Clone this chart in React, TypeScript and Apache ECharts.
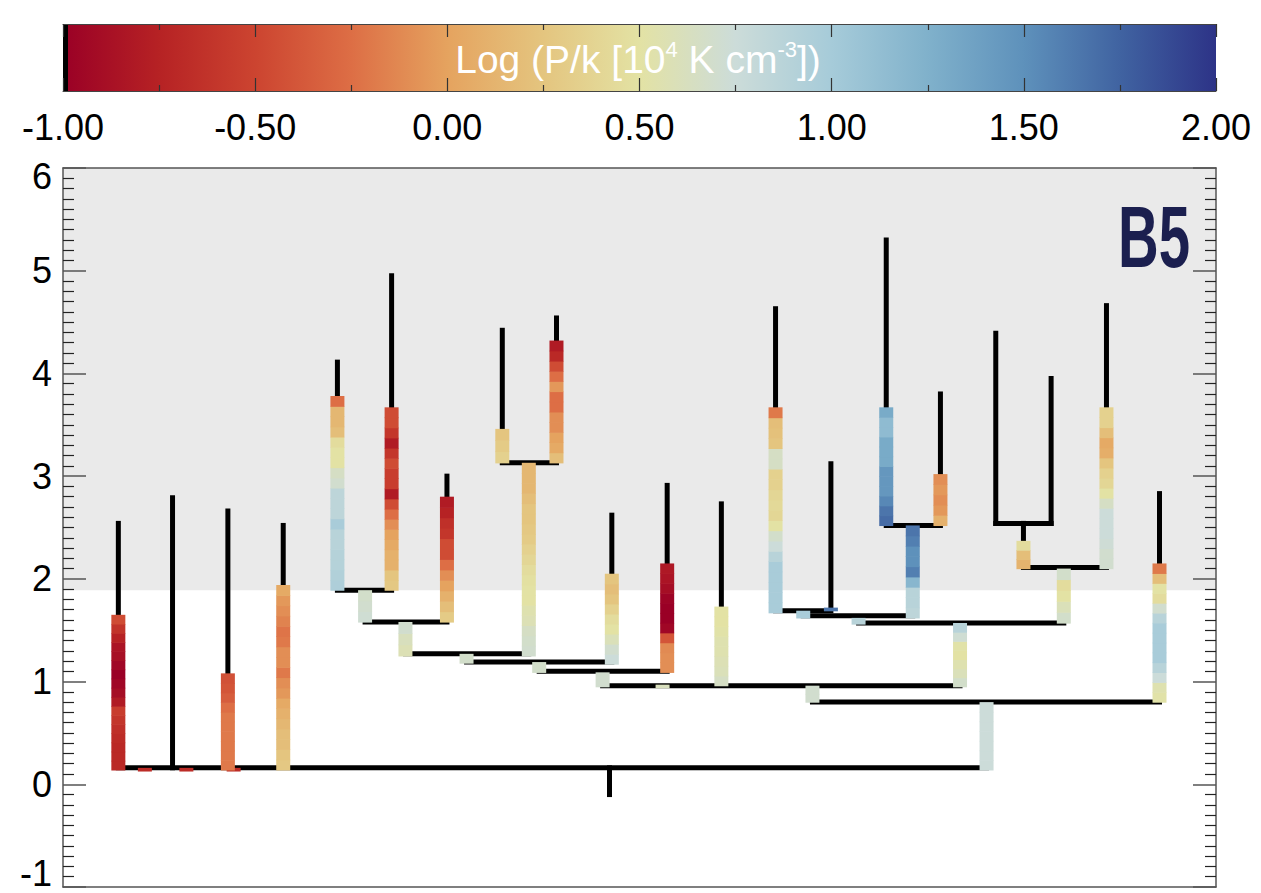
import React, { useEffect, useRef } from "react";
import * as echarts from "echarts";

const FONT = '"Liberation Sans", Arial, Helvetica, sans-serif';

// colour bar (Log P/k) stops
const cbStopValues = [-1, -0.75, -0.5, -0.25, 0, 0.25, 0.5, 0.75, 1, 1.25, 1.5, 1.75, 2];
const cbStopColors = [
  "#9a0026", "#b62224", "#cc4430", "#dd6e45", "#e5a35f", "#e4c57f", "#e3e2a4",
  "#ccdcd9", "#a6cbd9", "#80b1cb", "#5e91bb", "#4063a1", "#2d3387",
];
const cbMin = -1;
const cbMax = 2;

// y axis
const yMin = -1;
const yMax = 6;
const shadeFrom = 1.89;

// coloured branch segments: x position, lower / upper height, stripe values (bottom -> top)
const branchX = [
  4.8, 7.1, 10.7, 14.8, 14.3, 19.1, 23.8, 28.5, 26.2, 33.3, 29.7, 38.1, 42.8, 40.4, 35.0, 47.6,
  41.3, 52.4, 46.8, 52.0, 57.1, 61.8, 66.6, 64.2, 71.4, 76.1, 73.7, 69.0, 83.3, 90.5, 86.8, 77.8,
  65.0, 95.1, 80.1,
];
const branchLow = [
  0.14, 0.13, 0.13, 0.13, 0.14, 0.14, 1.89, 1.89, 1.58, 1.58, 1.25, 3.13, 3.13, 1.25, 1.18, 1.17,
  1.09, 1.09, 0.95, 0.94, 0.96, 1.67, 1.69, 1.62, 2.52, 2.52, 1.62, 1.56, 2.1, 2.1, 1.57, 0.95,
  0.8, 0.8, 0.14,
];
const branchHigh = [
  1.65, 0.16, 0.16, 0.16, 1.08, 1.94, 3.78, 3.67, 1.89, 2.8, 1.58, 3.46, 4.32, 3.13, 1.27, 2.05,
  1.19, 2.15, 1.09, 0.97, 1.73, 3.67, 1.72, 1.69, 3.67, 3.02, 2.52, 1.62, 2.37, 3.67, 2.1, 1.57,
  0.96, 2.15, 0.8,
];
const branchP: number[][] = [
  [-0.7, -0.7, -0.7, -0.68, -0.65, -0.6, -0.55, -0.8, -0.9, -0.95, -1.0, -0.95, -0.88, -0.85, -0.75, -0.62, -0.45],
  [-0.68],
  [-0.68],
  [-0.68],
  [-0.2, -0.2, -0.2, -0.2, -0.2, -0.2, -0.25, -0.35, -0.4, -0.42],
  [0.28, 0.25, 0.2, 0.2, 0.15, 0.1, 0.05, -0.05, -0.1, -0.2, -0.1, -0.1, -0.2, -0.22, -0.15, -0.1, -0.05, 0.05],
  [0.95, 0.93, 0.9, 0.9, 0.88, 0.88, 0.98, 0.85, 0.85, 0.85, 0.7, 0.65, 0.5, 0.5, 0.45, 0.2, 0.15, 0.15, -0.25],
  [0.28, 0.25, 0.1, 0.1, 0.05, 0.0, -0.1, -0.25, -0.45, -0.8, -0.55, -0.55, -0.45, -0.6, -0.8, -0.6, -0.45, -0.45],
  [0.72, 0.7, 0.68],
  [0.3, 0.2, 0.1, 0.0, -0.1, -0.25, -0.45, -0.45, -0.6, -0.65, -0.75, -0.8],
  [0.58, 0.62, 0.7],
  [0.35, 0.3, 0.25],
  [0.2, 0.05, 0.0, -0.1, -0.1, -0.25, -0.25, -0.05, -0.25, -0.45, -0.7, -0.8],
  [0.7, 0.68, 0.65, 0.58, 0.55, 0.5, 0.5, 0.48, 0.45, 0.4, 0.35, 0.3, 0.28, 0.25, 0.25, 0.2, 0.15, 0.15, 0.15],
  [0.68],
  [0.75, 0.7, 0.6, 0.5, 0.45, 0.35, 0.25, 0.2, 0.25],
  [0.68],
  [-0.1, -0.1, -0.12, -0.4, -0.95, -1.0, -1.0, -0.97, -0.9, -0.85, -0.82],
  [0.7],
  [0.62],
  [0.65, 0.6, 0.58, 0.55, 0.55, 0.52, 0.5, 0.5],
  [0.98, 0.98, 0.98, 0.98, 0.98, 0.88, 0.75, 0.68, 0.5, 0.4, 0.42, 0.4, 0.35, 0.35, 0.65, 0.65, 0.25, 0.22, 0.2, -0.2],
  [1.65],
  [0.98],
  [1.7, 1.65, 1.55, 1.45, 1.45, 1.45, 1.3, 1.3, 1.3, 1.15, 1.15, 1.3],
  [0.1, -0.05, -0.1, -0.05, -0.1],
  [0.85, 0.88, 0.88, 1.2, 1.6, 1.5, 1.5, 1.6, 1.65],
  [0.88],
  [0.12, 0.2, 0.45],
  [0.7, 0.7, 0.73, 0.75, 0.75, 0.75, 0.65, 0.5, 0.4, 0.35, 0.25, 0.08, 0.05, 0.2, 0.35, 0.35],
  [0.68, 0.6, 0.5, 0.45, 0.68],
  [0.68, 0.6, 0.55, 0.5, 0.52, 0.72, 0.88],
  [0.7, 0.7],
  [0.52, 0.55, 0.75, 0.88, 0.98, 0.98, 0.98, 0.98, 0.88, 0.7, 0.45, 0.5, 0.2, -0.2],
  [0.75, 0.75, 0.75, 0.75, 0.75, 0.75, 0.75],
];

// black vertical stems (no pressure data)
const stemX = [4.8, 9.5, 14.3, 19.1, 23.8, 28.5, 33.3, 38.1, 42.8, 47.6, 52.4, 57.1, 61.8, 66.6, 71.4, 76.1, 80.9, 85.7, 83.3, 90.5, 95.1, 47.4];
const stemLow = [1.65, 0.16, 1.08, 1.94, 3.78, 3.67, 2.8, 3.46, 4.32, 2.05, 2.15, 1.73, 3.67, 1.72, 3.67, 3.02, 2.54, 2.54, 2.37, 3.67, 2.15, -0.1];
const stemHigh = [2.54, 2.79, 2.66, 2.52, 4.11, 4.95, 3.0, 4.42, 4.54, 2.62, 2.91, 2.73, 4.63, 3.12, 5.3, 3.8, 4.39, 3.95, 2.54, 4.66, 2.83, 0.16];

// black horizontal links
const linkY = [0.16, 1.89, 1.58, 1.27, 3.13, 1.19, 1.1, 0.96, 1.69, 1.64, 2.52, 1.57, 2.54, 2.11, 0.8];
const linkX0 = [4.8, 23.8, 26.2, 29.7, 38.1, 35.0, 41.3, 46.8, 61.8, 64.2, 71.4, 69.0, 80.9, 83.3, 65.0];
const linkX1 = [80.1, 28.5, 33.3, 40.4, 42.8, 47.6, 52.4, 77.8, 66.6, 73.7, 76.1, 86.8, 85.7, 90.5, 95.1];

function hex(c: string) {
  return [parseInt(c.slice(1, 3), 16), parseInt(c.slice(3, 5), 16), parseInt(c.slice(5, 7), 16)];
}
function cmap(v: number) {
  const t = Math.max(cbMin, Math.min(cbMax, v));
  for (let i = 0; i < cbStopValues.length - 1; i++) {
    const a = cbStopValues[i];
    const b = cbStopValues[i + 1];
    if (t <= b) {
      const f = (t - a) / (b - a);
      const ca = hex(cbStopColors[i]);
      const cb = hex(cbStopColors[i + 1]);
      const m = ca.map((x, k) => Math.round(x + (cb[k] - x) * f));
      return `rgb(${m[0]},${m[1]},${m[2]})`;
    }
  }
  return cbStopColors[cbStopColors.length - 1];
}

export default function App() {
  const ref = useRef<HTMLDivElement>(null);
  useEffect(() => {
    if (!ref.current) return;
    const chart = echarts.init(ref.current, undefined, { renderer: "svg" });

    const stripes: number[][] = [];
    branchX.forEach((x, i) => {
      const vals = branchP[i];
      const h = (branchHigh[i] - branchLow[i]) / vals.length;
      vals.forEach((p, j) => {
        stripes.push([x, branchLow[i] + j * h, branchLow[i] + (j + 1) * h, p]);
      });
    });
    const segs: number[][] = [];
    stemX.forEach((x, i) => segs.push([x, stemLow[i], x, stemHigh[i]]));
    linkY.forEach((y, i) => segs.push([linkX0[i], y, linkX1[i], y]));

    const axisLineStyle = { color: "#555", width: 1.5 };
    const tickStyle = { color: "#333", width: 1.2 };
    const majorTick = { show: true, inside: true, length: 23, lineStyle: { color: "#555", width: 1.5 } };
    const minorTick = { show: true, splitNumber: 10, length: 11, lineStyle: { color: "#222", width: 1.2 } };

    const option: any = {
      animation: false,
      grid: [
        { left: 63, right: 45, top: 168, bottom: 6, outerBoundsMode: "none", containLabel: false },
        { left: 63, right: 45, top: 24, height: 67, outerBoundsMode: "none", containLabel: false },
      ],
      xAxis: [
        { gridIndex: 0, type: "value", min: 0, max: 100, position: "bottom", z: 10, axisLine: { show: true, onZero: false, lineStyle: axisLineStyle }, axisTick: { show: false }, axisLabel: { show: false }, splitLine: { show: false } },
        { gridIndex: 0, type: "value", min: 0, max: 100, position: "top", z: 10, axisLine: { show: true, onZero: false, lineStyle: axisLineStyle }, axisTick: { show: false }, axisLabel: { show: false }, splitLine: { show: false } },
        {
          gridIndex: 1, type: "value", min: cbMin, max: cbMax, interval: 0.5, position: "bottom", z: 10,
          axisLine: { show: true, onZero: false, lineStyle: { color: "#444", width: 1 } },
          axisTick: { show: true, inside: true, length: 13, lineStyle: tickStyle },
          minorTick: { show: true, splitNumber: 2, length: 6, lineStyle: tickStyle },
          axisLabel: { show: true, margin: 18, fontSize: 36, color: "#000", fontFamily: FONT, formatter: (v: number) => v.toFixed(2) },
          splitLine: { show: false },
        },
        {
          gridIndex: 1, type: "value", min: cbMin, max: cbMax, interval: 0.5, position: "top", z: 10,
          axisLine: { show: true, onZero: false, lineStyle: { color: "#444", width: 1 } },
          axisTick: { show: true, inside: true, length: 13, lineStyle: tickStyle },
          minorTick: { show: true, splitNumber: 2, length: 6, lineStyle: tickStyle },
          axisLabel: { show: false },
          splitLine: { show: false },
        },
      ],
      yAxis: [
        {
          gridIndex: 0, type: "value", min: yMin, max: yMax, interval: 1, position: "left", z: 10,
          axisLine: { show: true, onZero: false, lineStyle: axisLineStyle },
          axisTick: majorTick,
          minorTick: minorTick,
          axisLabel: {
            show: true, margin: 11, fontSize: 36, color: "#000", fontFamily: FONT,
            formatter: (v: number) => (v === yMax ? `{t|${v}}` : v === yMin ? `{b|${v}}` : `${v}`),
            rich: {
              t: { fontSize: 36, fontFamily: FONT, color: "#000", padding: [16, 0, 0, 0] },
              b: { fontSize: 36, fontFamily: FONT, color: "#000", padding: [0, 0, 28, 0] },
            },
          },
          splitLine: { show: false },
        },
        {
          gridIndex: 0, type: "value", min: yMin, max: yMax, interval: 1, position: "right", z: 10,
          axisLine: { show: true, onZero: false, lineStyle: axisLineStyle },
          axisTick: majorTick,
          minorTick: minorTick,
          axisLabel: { show: false },
          splitLine: { show: false },
        },
        { gridIndex: 1, type: "value", min: 0, max: 1, show: false },
      ],
      series: [
        {
          type: "custom", xAxisIndex: 0, yAxisIndex: 0, z: 1,
          data: [[0, shadeFrom, 100, yMax]],
          renderItem: (params: any, api: any) => {
            const a = api.coord([api.value(0), api.value(3)]);
            const b = api.coord([api.value(2), api.value(1)]);
            return { type: "rect", shape: { x: a[0], y: a[1], width: b[0] - a[0], height: b[1] - a[1] }, style: { fill: "#eaeaea" } };
          },
        },
        {
          type: "custom", xAxisIndex: 0, yAxisIndex: 0, z: 2,
          data: segs,
          renderItem: (params: any, api: any) => {
            const a = api.coord([api.value(0), api.value(1)]);
            const b = api.coord([api.value(2), api.value(3)]);
            return { type: "line", shape: { x1: a[0], y1: a[1], x2: b[0], y2: b[1] }, style: { stroke: "#000", lineWidth: 5, lineCap: "square" } };
          },
        },
        {
          type: "custom", xAxisIndex: 0, yAxisIndex: 0, z: 3,
          data: stripes,
          renderItem: (params: any, api: any) => {
            const a = api.coord([api.value(0), api.value(1)]);
            const b = api.coord([api.value(0), api.value(2)]);
            const w = 14;
            return { type: "rect", shape: { x: a[0] - w / 2, y: b[1], width: w, height: a[1] - b[1] + 0.6 }, style: { fill: cmap(api.value(3)) } };
          },
        },
        {
          type: "custom", xAxisIndex: 2, yAxisIndex: 2, z: 1,
          data: [[cbMin, 0, cbMax, 1]],
          renderItem: (params: any, api: any) => {
            const a = api.coord([api.value(0), api.value(3)]);
            const b = api.coord([api.value(2), api.value(1)]);
            const stops = cbStopValues.map((v, i) => ({ offset: (v - cbMin) / (cbMax - cbMin), color: cbStopColors[i] }));
            return {
              type: "group",
              children: [
                { type: "rect", shape: { x: a[0], y: a[1], width: b[0] - a[0], height: b[1] - a[1] }, style: { fill: new echarts.graphic.LinearGradient(0, 0, 1, 0, stops) } },
                { type: "rect", shape: { x: a[0], y: a[1], width: 5, height: b[1] - a[1] }, style: { fill: "#000" } },
              ],
            };
          },
        },
      ],
      graphic: [
        {
          type: "text", x: 638, y: 59, z: 10,
          style: {
            text: "Log (P/k [10{s|4} K cm{s|-3}])",
            fill: "#fff", fontSize: 39, fontFamily: FONT, align: "center", verticalAlign: "middle", lineHeight: 42,
            rich: { s: { fontSize: 22, fontFamily: FONT, fill: "#fff", verticalAlign: "top", lineHeight: 22 } },
          },
        },
        {
          type: "text", x: 1118, y: 193, scaleX: 0.64, z: 10,
          style: { text: "B5", fill: "#1b1f4f", fontSize: 88, fontWeight: "bold", fontFamily: FONT, align: "left", verticalAlign: "top" },
        },
      ],
    };
    chart.setOption(option);
    return () => chart.dispose();
  }, []);
  return <div ref={ref} style={{ position: "absolute", left: 0, top: 0, width: "1261px", height: "893px" }} />;
}
